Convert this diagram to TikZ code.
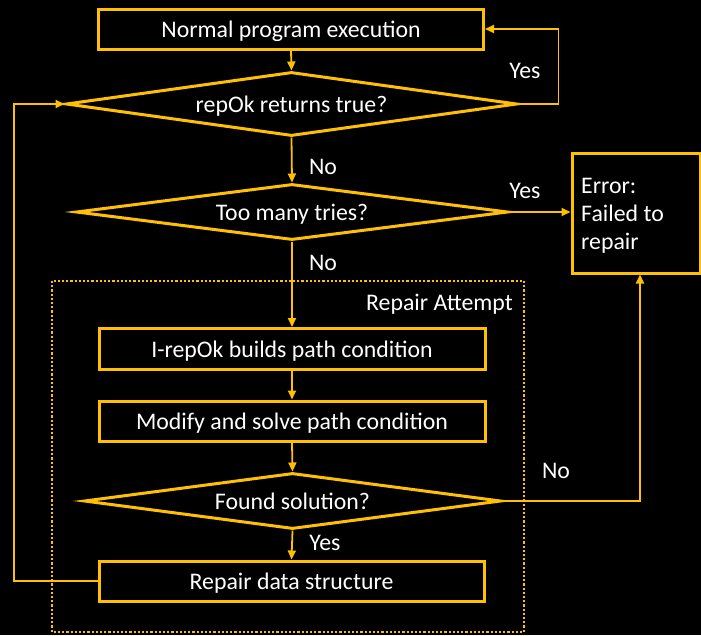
\documentclass[tikz,border=0pt]{standalone}
\usepackage{fontspec}
\setmainfont{Carlito}
\usetikzlibrary{shapes.geometric,arrows.meta}
\definecolor{gold}{HTML}{FFC000}
\tikzset{
  every node/.style={text=white,font=\fontsize{23.8}{28}\selectfont},
  stepbox/.style={draw=gold,line width=3pt,minimum width=385pt,minimum height=40pt,inner sep=0pt,text height=20pt,text depth=4pt},
  decision/.style={diamond,draw=gold,line width=3pt,inner sep=0pt,aspect=6,text height=20pt,text depth=4pt},
  conn/.style={draw=gold,line width=1.8pt},
  arr/.style={conn,-{Triangle[length=9pt,width=8pt]}},
  lbl/.style={inner sep=0pt}
}
\begin{document}
\begin{tikzpicture}[x=1pt,y=-1pt]
  \fill[black] (0,0) rectangle (701,635);
  \useasboundingbox (0,0) rectangle (701,635);

  % repair attempt frame
  \draw[gold,line width=2.2pt,dash pattern=on 2.2pt off 2pt] (52,281) rectangle (524,632);
  \node[lbl,anchor=east] (ra) at (513,304) {Repair Attempt};

  % main flow
  \node[stepbox] (n1) at (291,29) {Normal program execution};
  \node[decision,minimum width=451pt,minimum height=64pt] (d1) at (291.5,104) {repOk returns true?};
  \node[decision,minimum width=432pt,minimum height=56pt] (d2) at (292,212) {Too many tries?};
  \node[draw=gold,line width=3pt,minimum width=128pt,minimum height=120pt,inner sep=0pt] (err) at (636,213) {};
  \node[lbl,anchor=north west,align=left] (errt) at (581,178) {Error:\\Failed to\\repair};
  \node[stepbox,minimum width=386pt,minimum height=41pt] (b3) at (292,349) {I-repOk builds path condition};
  \node[stepbox,minimum width=386pt] (b4) at (292,421) {Modify and solve path condition};
  \node[decision,minimum width=417pt,minimum height=56pt] (d3) at (292.5,501) {Found solution?};
  \node[stepbox] (b5) at (291.5,581) {Repair data structure};

  % connectors
  \draw[arr] (n1.south) -- (d1.north);
  \draw[arr] (d1.east) -- ++(40,0) |- (n1.east);
  \draw[arr] (d1.south) -- (d2.north);
  \draw[arr] (d2.east) -- (err.west |- d2.east);
  \draw[arr] (d2.south) -- (b3.north);
  \draw[arr] (b3.south) -- (b4.north);
  \draw[arr] (b4.south) -- (d3.north);
  \draw[arr] (d3.south) -- (b5.north);
  \draw[arr] (d3.east) -| ([xshift=4pt]err.south);
  \draw[arr] (b5.west) -- (14,581) |- (d1.west);

  % branch labels
  \node[lbl] (y1) at (525,71) {Yes};
  \node[lbl] (n2) at (323,167) {No};
  \node[lbl] (y2) at (525,191) {Yes};
  \node[lbl] (n3) at (323,263) {No};
  \node[lbl] (n4) at (556,471) {No};
  \node[lbl] (y3) at (325,543) {Yes};
\end{tikzpicture}
\end{document}
